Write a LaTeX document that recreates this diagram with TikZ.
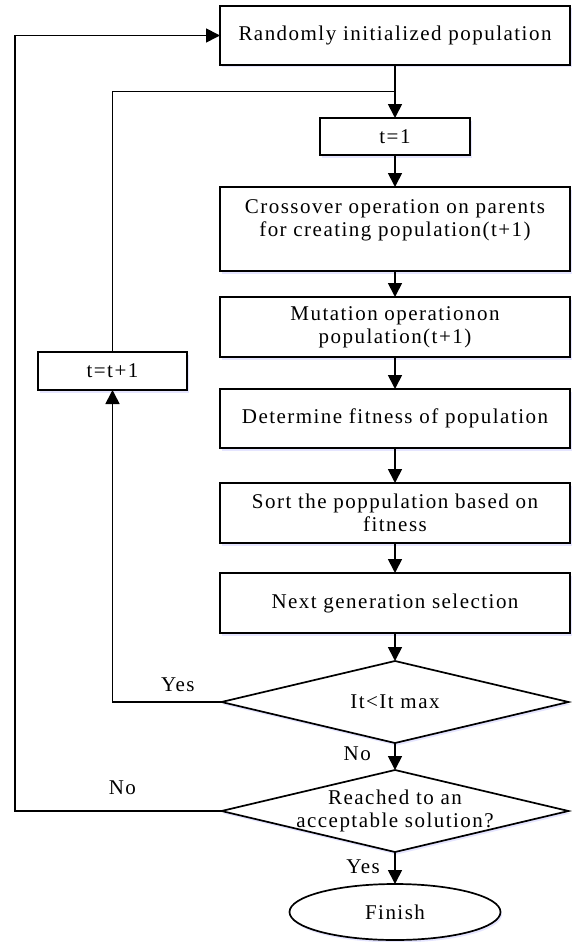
\documentclass[tikz,border=0pt]{standalone}
\usepackage{fontspec}
\setmainfont{Liberation Serif}[LetterSpace=7]
\usepackage{tikz}
\usetikzlibrary{
  arrows.meta,
  positioning,
  shapes.geometric,
  calc,
  shadows
}
\tikzset{
  vshadow/.style={general shadow={fill=blue!10, shadow xshift=1.5pt, shadow yshift=-2.5pt}},
  procbox/.style={draw, fill=white, line width=1.7pt, vshadow,
    minimum width=350pt, minimum height=60pt,
    inner sep=0pt, outer sep=0pt, align=center},
  smallbox/.style={draw, fill=white, line width=1.7pt, vshadow,
    minimum width=150pt, minimum height=37pt,
    inner sep=0pt, outer sep=0pt, align=center},
  decbox/.style={diamond, draw, fill=white, line width=1.7pt, vshadow,
    minimum width=347pt, minimum height=82pt, inner sep=0pt, outer sep=0pt},
  endbox/.style={ellipse, draw, fill=white, line width=1.7pt, vshadow,
    minimum width=211pt, minimum height=56pt, outer sep=0pt},
  arr/.style={-{Triangle[length=14pt, width=14pt]}, line width=1.7pt},
  line/.style={line width=1.7pt},
}

\begin{document}
\begin{tikzpicture}[
  font=\fontsize{21}{23}\selectfont
]
  \useasboundingbox (0,0) rectangle (571pt,-942pt);

  % main column
  \node[procbox, minimum height=59pt] (init) at (395pt,-35.5pt)
    {Randomly initialized population};
  \node[smallbox, below=53pt of init] (t1) {t=1};
  \node[procbox, minimum height=84pt, below=32pt of t1] (cross)
    {Crossover operation on parents\\for creating population(t+1)\\[-2pt]\mbox{}};
  \node[procbox, below=26pt of cross] (mut)
    {Mutation operationon\\population(t+1)};
  \node[procbox, minimum height=59pt, below=32pt of mut] (fit)
    {Determine fitness of population};
  \node[procbox, below=35pt of fit] (sort)
    {Sort the poppulation based on\\fitness};
  \node[procbox, below=30pt of sort] (sel)
    {Next generation selection};

  % decisions
  \node[decbox, below=28pt of sel, label={center:It<It max}] (d1) {};
  \node[decbox, below=27pt of d1,
    label={[align=center]center:Reached to an\\acceptable solution?}] (d2) {};
  \node[endbox, below=32pt of d2] (fin) {Finish};

  % counter update
  \node[smallbox, minimum width=149pt, minimum height=38pt] (tinc)
    at (112.5pt,-371pt) {t=t+1};

  \coordinate (join) at ($(init.south)!0.5!(t1.north)$);
  \coordinate (loopx) at (15pt,0);

  % arrows down the column
  \draw[arr] (init) -- (t1);
  \draw[arr] (t1) -- (cross);
  \draw[arr] (cross) -- (mut);
  \draw[arr] (mut) -- (fit);
  \draw[arr] (fit) -- (sort);
  \draw[arr] (sort) -- (sel);
  \draw[arr] (sel) -- (d1);
  \draw[arr] (d1) -- node[pos=0.4, left=20pt] {No} (d2);
  \draw[arr] (d2) -- node[pos=0.45, left=11pt] {Yes} (fin);

  % loops back
  \draw[arr] (d1.west) -| node[pos=0.2, above=6pt] {Yes} (tinc.south);
  \draw[line] (tinc.north) |- (join);
  \draw[arr] (d2.west) -| node[pos=0.24, above=12pt] {No} (loopx |- init.west)
    -- (init.west);
\end{tikzpicture}
\end{document}
